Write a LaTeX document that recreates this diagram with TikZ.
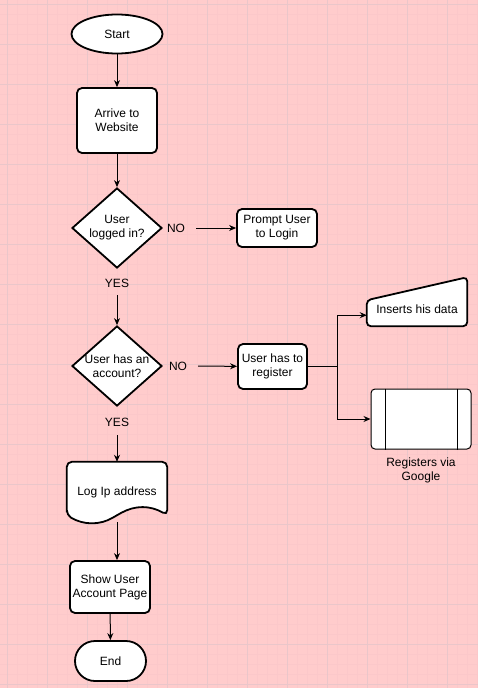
\documentclass[tikz,border=0pt]{standalone}
\usepackage{fontspec}
\setmainfont{Liberation Sans}
\usepackage{xcolor}
\usepackage{tikz}
\usetikzlibrary{shapes.geometric,arrows.meta,calc,backgrounds}

\definecolor{canvas}{HTML}{FFCCCC}
\definecolor{minorline}{HTML}{FBC8CA}
\definecolor{majorline}{HTML}{EAC6CA}

\begin{document}
\begin{tikzpicture}[
    x=1pt, y=-1pt,
    font=\fontsize{12}{14}\selectfont,
    base/.style={draw, fill=white, line width=1.8pt, align=center, inner sep=2pt},
    term/.style={base, ellipse, minimum width=91pt, minimum height=39pt},
    proc/.style={base, rectangle, rounded corners=5pt},
    decision/.style={base, diamond, aspect=1.125, minimum width=90pt, minimum height=80pt, inner sep=-4pt},
    lbl/.style={inner sep=2pt, align=center},
    outline/.style={draw, fill=white, line width=1.8pt},
    arrow/.style={-{Stealth[length=7pt,width=6pt]}, line width=1pt}
]
    \useasboundingbox (0,0) rectangle (478,688);

    % canvas with grid
    \begin{scope}[on background layer]
        \fill[canvas] (0,0) rectangle (478,688);
        \foreach \x in {7,17,...,477} \draw[minorline, line width=0.6pt] (\x,0) -- (\x,688);
        \foreach \y in {4,14,...,684} \draw[minorline, line width=0.6pt] (0,\y) -- (478,\y);
        \foreach \x in {7,47,...,477} \draw[majorline, line width=0.8pt] (\x,0) -- (\x,688);
        \foreach \y in {4,44,...,684} \draw[majorline, line width=0.8pt] (0,\y) -- (478,\y);
    \end{scope}

    \node[term] (start) at (117,34) {Start};
    \node[proc, minimum width=80pt, minimum height=65pt] (arrive) at (117,120.5) {Arrive to\\Website};
    \node[decision] (logged) at (117,228) {User\\logged in?};
    \node[lbl] (no1) at (176,228) {NO};
    \node[proc, minimum width=80pt, minimum height=38pt] (prompt) at (277,228) {Prompt User\\to Login};
    \node[lbl] (yes1) at (117,283) {YES};
    \node[decision] (account) at (117,366) {User has an\\account?};
    \node[lbl] (no2) at (178,366) {NO};
    \node[proc, minimum width=69pt, minimum height=45pt] (register) at (272.5,366.5) {User has to\\register};
    \coordinate (split) at (337,366.5);
    \node[lbl, minimum width=100pt, minimum height=34pt] (data) at (417,309) {Inserts his data};
    \node[base, line width=1pt, rounded corners=4pt, minimum width=100pt, minimum height=60pt] (google) at (421,419) {};
    \node[lbl] (googletext) at (421,470) {Registers via\\Google};
    \node[lbl] (yes2) at (117,422) {YES};
    \node[lbl, minimum width=100pt, minimum height=60pt] (logip) at (117,492) {Log Ip address};
    \node[proc, minimum width=80pt, minimum height=52pt] (show) at (110,587) {Show User\\Account Page};
    \node[base, rounded corners=20pt, minimum width=71pt, minimum height=40pt] (end) at (110.5,661) {End};

    % shapes drawn behind their text
    \begin{scope}[on background layer]
        \draw[outline, rounded corners=4pt] (data.south west) -- ++(0,-26)
            -- ($(data.south east)+(0,-49)$) -- (data.south east) -- cycle;
        \draw[outline, rounded corners=5pt] ($(logip.south west)+(0,-7)$) -- (logip.north west)
            -- (logip.north east) -- ($(logip.south east)+(0,-7)$)
            .. controls +(-17,-10) and +(18,-10) .. ($(logip.south)+(0,-7)$)
            .. controls +(-17,10) and +(17,10) .. ($(logip.south west)+(0,-7)$) -- cycle;
    \end{scope}
    \draw[line width=1pt] ($(google.north west)+(15,0)$) -- ($(google.south west)+(15,0)$);
    \draw[line width=1pt] ($(google.north east)+(-14,0)$) -- ($(google.south east)+(-14,0)$);

    \draw[arrow] (start) -- (arrive);
    \draw[arrow] (arrive) -- (logged);
    \draw[arrow, shorten <=9pt] (no1) -- (prompt);
    \draw[arrow, shorten <=6pt] (yes1) -- (account);
    \draw[arrow, shorten <=9pt] (no2) -- (register);
    \draw[line width=1pt] (register.east) -- (split);
    \draw[arrow] (split) |- ($(data.south west)+(0,-11)$);
    \draw[arrow] (split) |- (google.west);
    \draw[arrow, shorten <=7pt] (yes2) -- (logip);
    \draw[arrow] (logip.south) -- (logip.south |- show.north);
    \draw[arrow] (show) -- (end);
\end{tikzpicture}
\end{document}
